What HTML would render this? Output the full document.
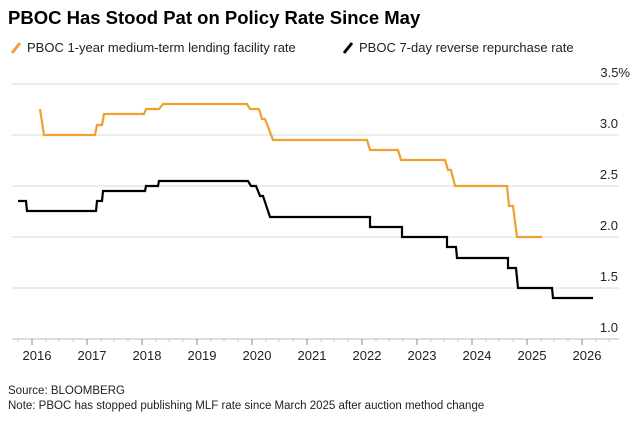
<!DOCTYPE html>
<html><head><meta charset="utf-8"><style>
body{margin:0;background:#fff;font-family:"Liberation Sans",sans-serif;}
</style></head><body>
<svg width="644" height="417" xmlns="http://www.w3.org/2000/svg" font-family="Liberation Sans, sans-serif">
<text x="8" y="24" font-size="18.5" font-weight="bold" fill="#000">PBOC Has Stood Pat on Policy Rate Since May</text>
<line x1="12" y1="53" x2="20" y2="43" stroke="#f0a030" stroke-width="3"/>
<text x="27" y="52" font-size="13" fill="#222">PBOC 1-year medium-term lending facility rate</text>
<line x1="344" y1="53" x2="352" y2="43" stroke="#000" stroke-width="3"/>
<text x="359" y="52" font-size="13" fill="#222">PBOC 7-day reverse repurchase rate</text>
<g stroke="#d8d8d8" stroke-width="1">
<line x1="12" y1="84" x2="619" y2="84"/>
<line x1="12" y1="135" x2="619" y2="135"/>
<line x1="12" y1="186" x2="619" y2="186"/>
<line x1="12" y1="237" x2="619" y2="237"/>
<line x1="12" y1="288" x2="619" y2="288"/>
</g>
<line x1="12" y1="339" x2="619" y2="339" stroke="#bbb"/>
<g font-size="13" fill="#222" text-anchor="end">
<text x="630" y="77">3.5%</text>
<text x="618" y="128">3.0</text>
<text x="618" y="179">2.5</text>
<text x="618" y="230">2.0</text>
<text x="618" y="281">1.5</text>
<text x="618" y="332">1.0</text>
</g>
<g stroke="#888" stroke-width="1" id="ticks">
<path d="M32 339v6M87 339v6M142 339v6M197 339v6M252 339v6M307 339v6M362 339v6M417 339v6M472 339v6M527 339v6M582 339v6"/>
</g>
<g stroke="#ccc" stroke-width="1">
<path d="M18 339v3M46 339v3M59 339v3M73 339v3M101 339v3M114 339v3M128 339v3M156 339v3M169 339v3M183 339v3M211 339v3M224 339v3M238 339v3M266 339v3M279 339v3M293 339v3M321 339v3M334 339v3M348 339v3M376 339v3M389 339v3M403 339v3M431 339v3M444 339v3M458 339v3M486 339v3M499 339v3M513 339v3M541 339v3M554 339v3M568 339v3M596 339v3M609 339v3"/>
</g>
<g font-size="13" fill="#222" text-anchor="middle">
<text x="37" y="360">2016</text><text x="92" y="360">2017</text><text x="147" y="360">2018</text><text x="202" y="360">2019</text><text x="257" y="360">2020</text><text x="312" y="360">2021</text><text x="367" y="360">2022</text><text x="422" y="360">2023</text><text x="477" y="360">2024</text><text x="532" y="360">2025</text><text x="587" y="360">2026</text>
</g>
<polyline fill="none" stroke="#f0a030" stroke-width="2.2" points="40,109 44,135 95,135 97,125 102,125 104,114 144,114 146,109 159,109 163,104 247,104 250,109 259,109 262,119 265,119 273,140 367,140 370,150 398,150 401,160 445,160 448,170 451,170 455,186 507,186 509,206 513,206 517,237 542,237"/>
<polyline fill="none" stroke="#000" stroke-width="2.2" points="18,201 26,201 27,211 96,211 97,201 102,201 103,191 145,191 146,186 158,186 159,181 248,181 251,186 256,186 260,196 263,196 270,217 370,217 370,227 402,227 402,237 447,237 447,247 456,247 457,258 508,258 508,268 516,268 518,288 552,288 553,298 593,298"/>
<text x="8" y="394" font-size="11.5" fill="#222">Source: BLOOMBERG</text>
<text x="8" y="409" font-size="11.5" fill="#222">Note: PBOC has stopped publishing MLF rate since March 2025 after auction method change</text>
</svg>
</body></html>
